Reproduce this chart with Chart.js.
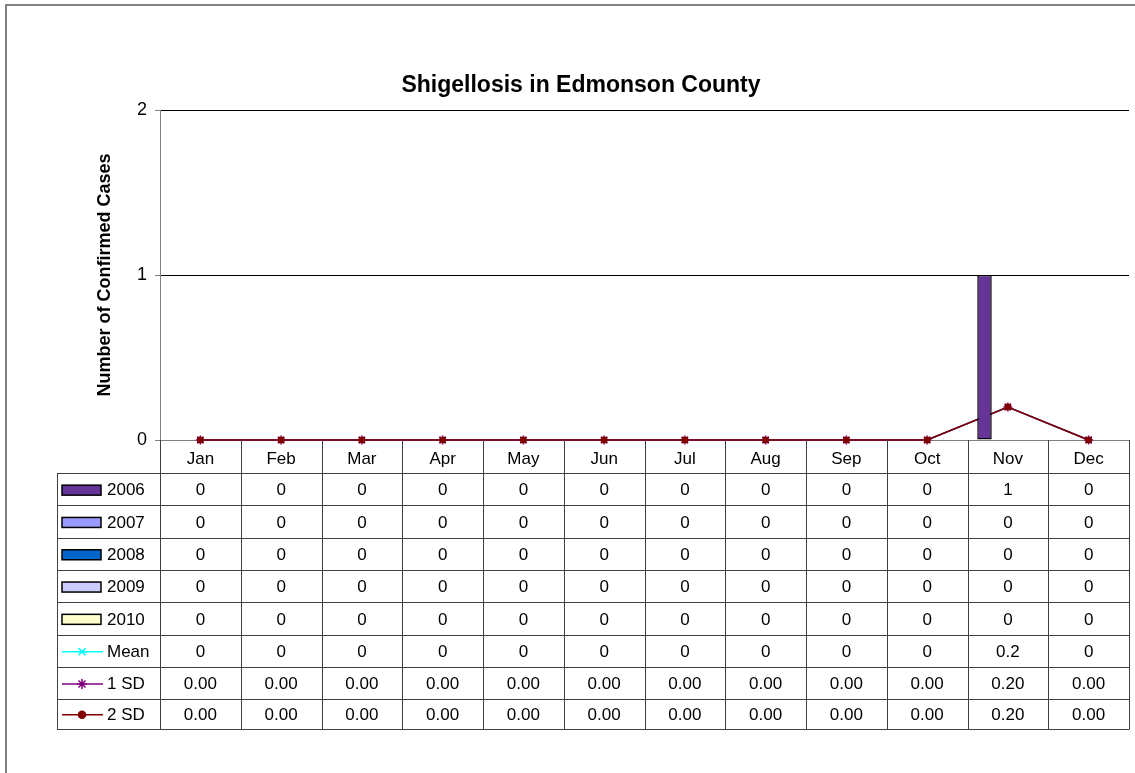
<!DOCTYPE html>
<html>
<head>
<meta charset="utf-8">
<title>Shigellosis in Edmonson County</title>
<script src="https://cdn.jsdelivr.net/npm/chart.js@4.4.1/dist/chart.umd.min.js"></script>
<style>
    html, body { margin: 0; padding: 0; background: #fff; }
    #wrap { position: relative; width: 1135px; height: 773px; }
</style>
</head>
<body>
<div id="wrap"><canvas id="chart" width="1135" height="773"></canvas></div>
<script>
// chart data
const months = ["Jan","Feb","Mar","Apr","May","Jun","Jul","Aug","Sep","Oct","Nov","Dec"];
const years = ["2006","2007","2008","2009","2010"];
const cases2006 = [0,0,0,0,0,0,0,0,0,0,1,0];
const cases2007 = [0,0,0,0,0,0,0,0,0,0,0,0];
const cases2008 = [0,0,0,0,0,0,0,0,0,0,0,0];
const cases2009 = [0,0,0,0,0,0,0,0,0,0,0,0];
const cases2010 = [0,0,0,0,0,0,0,0,0,0,0,0];
const meanVals = [0,0,0,0,0,0,0,0,0,0,0.2,0];
const sd1Vals = [0,0,0,0,0,0,0,0,0,0,0.2,0];
const sd2Vals = [0,0,0,0,0,0,0,0,0,0,0.2,0];
const yTicks = [0,1,2];

const FONT = "'Liberation Sans', Arial, sans-serif";
const barColors = ["#663399","#9999ff","#0066cc","#ccccff","#ffffcc"];
const yearData = [cases2006, cases2007, cases2008, cases2009, cases2010];

const barSets = years.map((y, i) => ({
    type: "bar",
    label: y,
    data: yearData[i],
    backgroundColor: barColors[i],
    borderColor: "#000",
    borderWidth: 1.5,
    borderSkipped: false,
    order: 0
}));

const lineSets = [
    { label: "Mean", data: meanVals, color: "#00ffff", style: "crossRot", r: 4, order: 3 },
    { label: "1 SD", data: sd1Vals, color: "#800080", style: "star", r: 4.5, order: 2 },
    { label: "2 SD", data: sd2Vals, color: "#800000", style: "rect", r: 3.5, order: 1 }
].map(s => ({
    type: "line",
    label: s.label,
    data: s.data,
    borderColor: s.color,
    backgroundColor: s.color,
    pointBorderColor: s.color,
    pointBackgroundColor: s.color,
    borderWidth: 1.5,
    pointStyle: s.style,
    pointRadius: s.r,
    pointBorderWidth: 1.5,
    tension: 0,
    clip: false,
    order: s.order
}));

// rows of the data table: label, values, key type, formatter
const tableRows = [
    ...years.map((y, i) => ({ label: y, vals: yearData[i], key: "bar", color: barColors[i], fmt: v => String(v) })),
    { label: "Mean", vals: meanVals, key: "line", color: "#00ffff", style: "crossRot", fmt: v => String(v) },
    { label: "1 SD", vals: sd1Vals, key: "line", color: "#800080", style: "star", fmt: v => v.toFixed(2) },
    { label: "2 SD", vals: sd2Vals, key: "line", color: "#800000", style: "circle", fmt: v => v.toFixed(2) }
];

const dataTable = {
    id: "dataTable",
    afterDraw(chart) {
        const ctx = chart.ctx;
        const xs = chart.scales.x;
        const top = chart.chartArea.bottom;
        const headH = 33;
        const rowH = 32.3;
        const legLeft = 57;
        const bottom = 728.5;

        // column edges from the category scale
        const centers = months.map((m, i) => xs.getPixelForValue(i));
        const edges = [xs.left];
        for (let i = 1; i < centers.length; i++) edges.push((centers[i - 1] + centers[i]) / 2);
        edges.push(xs.right);

        ctx.save();
        // outer frame of the chart object
        ctx.strokeStyle = "#808080";
        ctx.lineWidth = 2;
        ctx.beginPath();
        ctx.moveTo(6, 773); ctx.lineTo(6, 5); ctx.lineTo(1135, 5);
        ctx.stroke();

        ctx.lineWidth = 1;
        ctx.strokeStyle = "#404040";
        ctx.beginPath();
        // horizontal lines
        for (let r = 0; r <= tableRows.length; r++) {
            const y = Math.round(Math.min(top + headH + r * rowH, bottom)) + 0.5;
            ctx.moveTo(legLeft, y); ctx.lineTo(xs.right, y);
        }
        // vertical lines
        edges.forEach(x => {
            const xx = Math.round(x) + 0.5;
            ctx.moveTo(xx, top); ctx.lineTo(xx, Math.round(bottom) + 0.5);
        });
        const lx = legLeft + 0.5;
        ctx.moveTo(lx, Math.round(top + headH) + 0.5); ctx.lineTo(lx, Math.round(bottom) + 0.5);
        ctx.stroke();

        ctx.fillStyle = "#000";
        ctx.font = "17px " + FONT;
        ctx.textAlign = "center";
        ctx.textBaseline = "middle";
        months.forEach((m, i) => ctx.fillText(m, centers[i], top + headH / 2 + 2.5));

        tableRows.forEach((row, r) => {
            const y0 = top + headH + r * rowH;
            const y1 = Math.min(y0 + rowH, bottom);
            const cy = (y0 + y1) / 2 + 1.5;
            ctx.fillStyle = "#000";
            ctx.textAlign = "center";
            row.vals.forEach((v, i) => ctx.fillText(row.fmt(v), centers[i], cy));

            // legend key
            if (row.key === "bar") {
                ctx.fillStyle = row.color;
                ctx.fillRect(62, cy - 5.5, 39, 10);
                ctx.lineWidth = 1.5;
                ctx.strokeStyle = "#000";
                ctx.strokeRect(62, cy - 5.5, 39, 10);
            } else {
                ctx.lineWidth = 1.5;
                ctx.strokeStyle = row.color;
                ctx.beginPath();
                ctx.moveTo(62, cy - 0.5); ctx.lineTo(103, cy - 0.5);
                ctx.stroke();
                ctx.fillStyle = row.color;
                Chart.helpers.drawPoint(ctx, { pointStyle: row.style, radius: row.style === "circle" ? 3.5 : 5, rotation: 0, borderWidth: 1.5 }, 82, cy - 0.5);
            }
            ctx.fillStyle = "#000";
            ctx.textAlign = "left";
            ctx.fillText(row.label, 107, cy);
        });
        ctx.restore();
    }
};

new Chart(document.getElementById("chart"), {
    data: {
        labels: months,
        datasets: [...barSets, ...lineSets]
    },
    options: {
        responsive: false,
        animation: false,
        layout: { padding: { left: 33, right: 6, top: 0, bottom: 0 } },
        datasets: {
            bar: { categoryPercentage: 0.724, barPercentage: 1.24 }
        },
        plugins: {
            legend: { display: false },
            tooltip: { enabled: false },
            title: {
                display: true,
                text: "Shigellosis in Edmonson County",
                color: "#000",
                font: { family: FONT, size: 23, weight: "bold" },
                padding: { top: 72.2, bottom: 10.2 }
            }
        },
        scales: {
            x: {
                offset: true,
                ticks: { display: false },
                grid: { display: false },
                border: { display: false },
                afterFit: s => { s.height = 333; }
            },
            y: {
                min: 0,
                max: 2,
                afterBuildTicks: s => { s.ticks = yTicks.map(v => ({ value: v })); },
                ticks: {
                    color: "#000",
                    padding: 8,
                    font: { family: FONT, size: 18 }
                },
                grid: {
                    color: c => c.tick && c.tick.value === 0 ? "#808080" : "#000",
                    tickColor: "#808080",
                    tickLength: 5,
                    lineWidth: 1
                },
                border: { display: true, color: "#808080", width: 1 },
                title: {
                    display: true,
                    text: "Number of Confirmed Cases",
                    color: "#000",
                    font: { family: FONT, size: 18, weight: "bold" },
                    padding: { top: 61, bottom: 0 }
                },
                afterFit: s => { s.width = 127; }
            }
        }
    },
    plugins: [dataTable]
});
</script>
</body>
</html>
